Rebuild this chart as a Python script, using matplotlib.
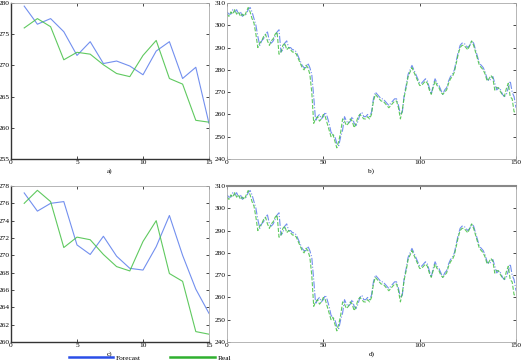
import numpy as np
import matplotlib.pyplot as plt

plt.rcParams['font.family'] = ['Liberation Serif', 'DejaVu Serif']

# short window (15 days)
days_short = list(range(1, 16))
real_short = [276.0, 277.5, 276.2, 270.9, 272.1, 271.8, 270.1, 268.7, 268.2,
              271.6, 274.0, 267.9, 267.0, 261.2, 260.9]
fc_a = [279.5, 276.6, 277.5, 275.4, 271.6, 273.8, 270.3, 270.7, 269.9,
        268.5, 272.3, 273.8, 267.9, 269.7, 260.7]
fc_c = [277.2, 275.1, 276.0, 276.2, 271.2, 270.1, 272.2, 269.9, 268.5,
        268.3, 271.0, 274.6, 270.0, 266.1, 263.3]

# long window (0..150)
real_long = [305, 304, 306, 305, 307, 305, 306, 304, 305, 304,
             306, 308, 306, 303, 301, 296, 290, 292, 293, 295,
             296, 293, 291, 293, 294, 296, 297, 287, 288, 291,
             292, 289, 290, 289, 288, 288, 287, 285, 283, 281,
             280, 282, 281, 278, 270, 256, 258, 259, 257, 258,
             260, 259, 256, 253, 250, 251, 248, 245, 248, 252,
             258, 257, 255, 256, 258, 257, 254, 256, 259, 260,
             259, 258, 258, 259, 258, 260, 266, 269, 268, 267,
             266, 266, 265, 264, 263, 264, 265, 266, 266, 263,
             258, 262, 268, 272, 277, 279, 281, 279, 277, 275,
             273, 273, 274, 275, 274, 271, 269, 272, 275, 273,
             272, 270, 269, 270, 271, 274, 276, 277, 279, 283,
             287, 290, 291, 291, 290, 289, 291, 293, 291, 288,
             285, 282, 281, 280, 278, 275, 276, 277.5, 276.2, 270.9,
             272.1, 271.8, 270.1, 268.7, 268.2, 271.6, 274.0, 267.9, 267.0, 261.2,
             260.9]
fc_long = [306, 305, 305, 307, 306, 307, 305, 306, 304, 305,
           305, 307, 308, 306, 303, 300, 295, 291, 293, 294,
           296, 297, 293, 292, 293, 295, 297, 298, 288, 289,
           292, 293, 290, 290, 289, 289, 288, 286, 284, 282,
           281, 281, 283, 281, 278, 268, 257, 259, 260, 258,
           259, 261, 259, 256, 252, 251, 250, 247, 246, 250,
           253, 259, 257, 256, 257, 259, 256, 255, 257, 260,
           261, 259, 259, 260, 259, 261, 267, 270, 269, 268,
           267, 267, 266, 265, 264, 265, 266, 267, 267, 264,
           260, 261, 269, 273, 278, 280, 282, 280, 278, 276,
           274, 274, 275, 276, 275, 272, 269, 273, 276, 274,
           273, 271, 269, 271, 272, 275, 277, 278, 280, 284,
           288, 291, 292, 292, 291, 290, 291, 293, 292, 289,
           286, 283, 282, 281, 279, 276, 275, 276, 277, 274,
           271, 272, 271, 269, 268, 269, 272, 275, 270, 268,
           263]
days_long = list(range(len(real_long)))

blue = '#5a7cec'
green = '#44c044'

fig = plt.figure(figsize=(5.21, 3.64), dpi=100)
W, H = 521, 364


def box(x0, y0, x1, y1):
    return [x0 / W, 1 - y1 / H, (x1 - x0) / W, (y1 - y0) / H]


def style(ax, dark):
    ax.tick_params(labelsize=5.3, length=2, width=0.5, pad=1, direction='in',
                   top=True, right=True)
    for s in ax.spines.values():
        s.set_linewidth(0.6)
        s.set_color('#aaaaaa')
    if dark:
        ax.spines['left'].set_color('#333333')
        ax.spines['bottom'].set_color('#333333')
        ax.spines['left'].set_linewidth(1.0)
        ax.spines['bottom'].set_linewidth(1.0)


ax_a = fig.add_axes(box(11, 3, 209, 159))
ax_a.plot(days_short, fc_a, color=blue, lw=0.8, alpha=0.85)
ax_a.plot(days_short, real_short, color=green, lw=0.8, alpha=0.85)
ax_a.set_xlim(0, 15)
ax_a.set_ylim(255, 280)
ax_a.set_xticks([0, 5, 10, 15])
ax_a.set_yticks([255, 260, 265, 270, 275, 280])
style(ax_a, True)
ax_a.set_xlabel('a)', fontsize=5.3, labelpad=2)

ax_c = fig.add_axes(box(11, 186, 209, 342))
ax_c.plot(days_short, fc_c, color=blue, lw=0.8, alpha=0.85)
ax_c.plot(days_short, real_short, color=green, lw=0.8, alpha=0.85)
ax_c.set_xlim(0, 15)
ax_c.set_ylim(260, 278)
ax_c.set_xticks([0, 5, 10, 15])
ax_c.set_yticks(list(range(260, 279, 2)))
style(ax_c, True)
ax_c.set_xlabel('c)', fontsize=5.3, labelpad=2)

for rect, lab in [((227, 3, 516, 159), 'b)'), ((227, 186, 516, 342), 'd)')]:
    ax = fig.add_axes(box(*rect))
    ax.plot(days_long, fc_long, color=blue, lw=0.8, ls='-.', alpha=0.85)
    ax.plot(days_long, real_long, color=green, lw=0.8, ls='--', alpha=0.85)
    ax.set_xlim(0, 150)
    ax.set_ylim(240, 310)
    ax.set_xticks([0, 50, 100, 150])
    ax.set_yticks(list(range(240, 311, 10)))
    style(ax, False)
    ax.set_xlabel(lab, fontsize=5.3, labelpad=2)
    if lab == 'd)':
        ax.spines['top'].set_color('#888888')
        ax.spines['top'].set_linewidth(1.5)

h1, = ax_c.plot([], [], color='#2a4ee8', lw=1.8, label='Forecast')
h2, = ax_c.plot([], [], color='#2fb02f', lw=1.8, label='Real')
fig.legend(handles=[h1, h2], loc='center', bbox_to_anchor=(150 / W, 1 - 358 / H),
           ncol=2, fontsize=5.3, frameon=False, handlelength=6, columnspacing=4,
           handletextpad=0.4)

fig.savefig('out.png', dpi=100)
